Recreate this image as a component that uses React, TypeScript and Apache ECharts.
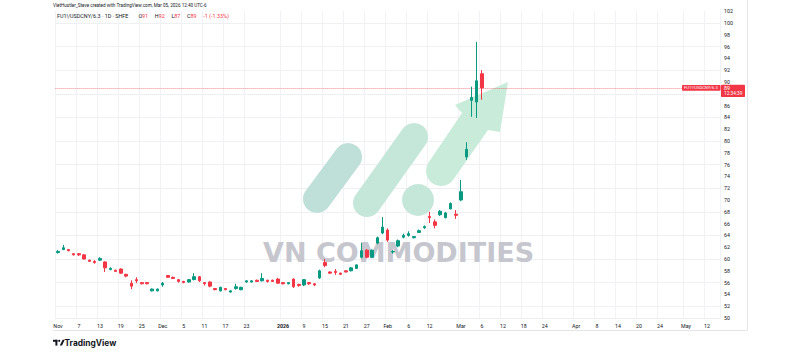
import React, { useEffect, useRef } from "react";
import * as echarts from "echarts";

// Trading days shown (SHFE, daily bars)
const tradingDates = [
  "2025-11-03","2025-11-04","2025-11-05","2025-11-06","2025-11-07","2025-11-10","2025-11-11","2025-11-12","2025-11-13","2025-11-14",
  "2025-11-17","2025-11-18","2025-11-19","2025-11-20","2025-11-21","2025-11-24","2025-11-25","2025-11-26","2025-11-27","2025-11-28",
  "2025-12-01","2025-12-02","2025-12-03","2025-12-04","2025-12-05","2025-12-08","2025-12-09","2025-12-10","2025-12-11","2025-12-12",
  "2025-12-15","2025-12-16","2025-12-17","2025-12-18","2025-12-19","2025-12-22","2025-12-23","2025-12-24","2025-12-25","2025-12-26",
  "2025-12-29","2025-12-30","2025-12-31","2026-01-05","2026-01-06","2026-01-07","2026-01-08","2026-01-09","2026-01-12","2026-01-13",
  "2026-01-14","2026-01-15","2026-01-16","2026-01-19","2026-01-20","2026-01-21","2026-01-22","2026-01-23","2026-01-26","2026-01-27",
  "2026-01-28","2026-01-29","2026-01-30","2026-02-02","2026-02-03","2026-02-04","2026-02-05","2026-02-06","2026-02-09","2026-02-10",
  "2026-02-11","2026-02-12","2026-02-13","2026-02-24","2026-02-25","2026-02-26","2026-02-27","2026-03-02","2026-03-03","2026-03-04",
  "2026-03-05","2026-03-06"
];

// Future (empty) bars on the time scale
const futureDates = [
  "2026-03-09","2026-03-10","2026-03-11","2026-03-12","2026-03-13","2026-03-16","2026-03-17","2026-03-18","2026-03-19","2026-03-20",
  "2026-03-23","2026-03-24","2026-03-25","2026-03-26","2026-03-27","2026-03-30","2026-03-31","2026-04-01","2026-04-02","2026-04-03",
  "2026-04-07","2026-04-08","2026-04-09","2026-04-10","2026-04-13","2026-04-14","2026-04-15","2026-04-16","2026-04-17","2026-04-20",
  "2026-04-21","2026-04-22","2026-04-23","2026-04-24","2026-04-27","2026-04-28","2026-04-29","2026-04-30","2026-05-06","2026-05-07",
  "2026-05-08","2026-05-11","2026-05-12","2026-05-13","2026-05-14"
];

const opens = [
  61.1, 61.6, 61.6, 60.9, 60.9, 60.7, 59.8, 59.6, 59.8, 59.5,
  58.2, 58.1, 58.3, 57.4, 55.9, 56.5, 56.0, 56.0, 54.6, 54.6,
  55.6, 57.2, 56.9, 56.5, 56.2, 56.1, 56.5, 57.0, 56.0, 56.1,
  55.0, 54.6, 55.0, 54.4, 55.0, 54.8, 56.1, 56.1, 56.4, 56.3,
  56.4, 56.4, 56.6, 56.0, 55.8, 56.6, 55.7, 55.6, 56.0, 55.8,
  56.8, 59.4, 57.8, 57.9, 57.6, 58.0, 58.0, 58.4, 60.3, 61.5,
  60.3, 62.7, 64.4, 64.9, 61.2, 62.2, 63.7, 64.0, 63.6, 64.5,
  65.3, 67.2, 66.3, 67.5, 67.0, 68.5, 67.6, 70.0, 77.3, 86.9,
  86.6, 91.4
];
const closes = [
  61.3, 61.9, 61.4, 60.7, 60.7, 60.0, 59.6, 59.4, 60.1, 58.5,
  58.4, 57.9, 57.6, 57.1, 55.4, 56.3, 55.8, 55.8, 54.9, 54.9,
  55.9, 56.9, 56.7, 56.2, 56.0, 56.5, 57.0, 56.3, 55.8, 55.4,
  54.8, 55.2, 54.8, 54.6, 55.3, 55.2, 56.3, 56.3, 56.2, 56.7,
  56.2, 56.2, 55.9, 55.8, 56.0, 55.3, 55.5, 56.5, 55.8, 55.6,
  58.0, 58.9, 57.6, 57.7, 57.4, 57.8, 58.5, 59.0, 61.4, 60.3,
  61.5, 63.6, 65.4, 63.2, 61.25, 63.1, 64.0, 64.3, 63.8, 64.8,
  65.5, 67.0, 65.7, 68.1, 67.8, 69.4, 67.4, 71.4, 78.6, 87.4,
  90.2, 89.0
];
const lows = [
  60.9, 61.5, 61.3, 60.6, 60.5, 59.9, 59.5, 59.2, 59.7, 57.8,
  58.1, 57.8, 57.5, 56.9, 54.9, 55.9, 55.7, 55.7, 54.5, 54.5,
  55.3, 56.8, 56.6, 56.0, 55.9, 56.0, 56.4, 56.1, 55.5, 55.2,
  54.7, 54.5, 54.7, 54.3, 54.8, 54.7, 56.0, 56.0, 56.1, 56.2,
  56.0, 56.1, 55.8, 55.7, 55.7, 55.1, 55.3, 55.4, 55.6, 55.4,
  56.6, 58.6, 57.5, 57.3, 57.3, 57.7, 57.9, 58.3, 60.1, 60.1,
  60.2, 62.5, 64.2, 62.9, 60.9, 62.0, 63.5, 63.8, 63.5, 64.4,
  65.1, 66.1, 65.2, 67.3, 66.9, 68.4, 66.8, 69.8, 76.8, 84.1,
  83.9, 87.0
];
const highs = [
  61.5, 62.4, 61.7, 61.0, 61.0, 60.8, 59.9, 59.8, 60.3, 59.6,
  58.6, 58.2, 58.4, 57.5, 56.4, 56.9, 56.1, 56.1, 55.0, 55.0,
  56.1, 57.3, 57.0, 56.6, 56.3, 56.6, 57.6, 57.1, 56.1, 56.2,
  55.1, 55.3, 55.1, 54.7, 55.8, 55.3, 56.4, 56.4, 56.5, 57.6,
  56.5, 56.5, 56.8, 56.1, 56.1, 56.7, 55.8, 56.6, 56.1, 55.9,
  58.2, 60.0, 57.9, 58.3, 57.7, 58.1, 58.6, 59.1, 62.7, 61.7,
  61.6, 63.8, 67.1, 65.2, 61.5, 63.3, 64.3, 64.7, 63.9, 65.0,
  65.7, 68.0, 66.7, 68.3, 68.0, 69.6, 68.3, 73.4, 79.8, 89.2,
  96.8, 92.0
];

// Time-axis tick labels: [date, label]
const timeTicks: [string, string][] = [
  ["2025-11-03", "Nov"], ["2025-11-07", "7"], ["2025-11-13", "13"], ["2025-11-19", "19"], ["2025-11-25", "25"],
  ["2025-12-01", "Dec"], ["2025-12-05", "5"], ["2025-12-11", "11"], ["2025-12-17", "17"], ["2025-12-23", "23"],
  ["2026-01-05", "2026"], ["2026-01-09", "9"], ["2026-01-15", "15"], ["2026-01-21", "21"], ["2026-01-27", "27"],
  ["2026-02-02", "Feb"], ["2026-02-06", "6"], ["2026-02-12", "12"], ["2026-03-02", "Mar"], ["2026-03-06", "6"],
  ["2026-03-12", "12"], ["2026-03-18", "18"], ["2026-03-24", "24"], ["2026-04-01", "Apr"], ["2026-04-08", "8"],
  ["2026-04-14", "14"], ["2026-04-20", "20"], ["2026-04-24", "24"], ["2026-05-06", "May"], ["2026-05-12", "12"]
];

const priceMin = 50;
const priceMax = 102;
const priceStep = 2;

const symbolName = "FU1!/USDCNY/6.3";
const countdown = "12:34:39";

const UP = "#089981";
const DOWN = "#f23645";
const TEXT = "#131722";

export default function App() {
  const ref = useRef<HTMLDivElement>(null);

  useEffect(() => {
    if (!ref.current) return;
    const chart = echarts.init(ref.current, undefined, { renderer: "svg" });

    const categories = [...tradingDates, ...futureDates];
    const tickMap: Record<string, string> = {};
    timeTicks.forEach(([d, t]) => (tickMap[d] = t));
    const isTick = (i: number) => tickMap[categories[i]] !== undefined;

    const candleData = tradingDates.map((_, i) => [opens[i], closes[i], lows[i], highs[i]]);
    const last = tradingDates.length - 1;
    const lastClose = closes[last];
    const prevClose = closes[last - 1];
    const chg = lastClose - prevClose;
    const chgPct = (chg / prevClose) * 100;

    chart.setOption({
      animation: false,
      backgroundColor: "#ffffff",
      grid: { left: 55.4, right: 79.9, top: 11.2, bottom: 35, containLabel: false },
      xAxis: {
        type: "category",
        data: categories,
        boundaryGap: true,
        axisLine: { show: true, lineStyle: { color: "#eceef2" } },
        axisTick: { show: false },
        splitLine: { show: true, interval: (i: number) => isTick(i), lineStyle: { color: "#f1f2f5", width: 1 } },
        axisLabel: {
          interval: (i: number) => isTick(i),
          formatter: (v: string) => {
            const t = tickMap[v] || "";
            return t === "2026" ? "{b|" + t + "}" : t;
          },
          fontSize: 5.3,
          color: TEXT,
          margin: 5,
          fontFamily: "Roboto",
          rich: { b: { fontSize: 5.3, fontWeight: "bold", color: TEXT, fontFamily: "Roboto" } },
        },
      },
      yAxis: {
        type: "value",
        position: "right",
        min: priceMin,
        max: priceMax,
        interval: priceStep,
        axisLine: { show: false },
        axisTick: { show: false },
        splitLine: { show: true, lineStyle: { color: ["rgba(0,0,0,0)", "#eef0f4"], width: 1 } },
        axisLabel: {
          fontSize: 5.3,
          color: TEXT,
          margin: 4,
          fontFamily: "Roboto",
          // labels hidden under the last-price badge
          formatter: (v: number) => (v < lastClose + 0.5 && v > lastClose - 1.8 ? "" : String(v)),
        },
      },
      series: [
        {
          type: "candlestick",
          data: candleData,
          barWidth: 3,
          z: 5,
          itemStyle: { color: UP, color0: DOWN, borderColor: UP, borderColor0: DOWN, borderWidth: 1 },
          markLine: {
            silent: true,
            symbol: "none",
            label: { show: false },
            lineStyle: { color: DOWN, type: "dotted", width: 1, opacity: 0.6 },
            data: [{ yAxis: lastClose }],
          },
        },
      ],
    });

    const yLast = chart.convertToPixel({ yAxisIndex: 0 }, lastClose) as number;
    const logoFill1 = "#bfe0d8";
    const logoFill2 = "#c5e7d9";
    const logoFill3 = "#c9ecda";
    const fmt = (v: number) => String(Math.round(v));

    chart.setOption({
      graphic: [
        // watermark logo
        { type: "line", z: 0, shape: { x1: 317, y1: 199, x2: 348, y2: 157 }, style: { stroke: logoFill1, lineWidth: 28, lineCap: "round" } },
        { type: "line", z: 0, shape: { x1: 367, y1: 203, x2: 414, y2: 137 }, style: { stroke: logoFill2, lineWidth: 28, lineCap: "round" } },
        { type: "circle", z: 0, shape: { cx: 418, cy: 200, r: 16 }, style: { fill: logoFill2 } },
        { type: "circle", z: 0, shape: { cx: 441, cy: 171, r: 15 }, style: { fill: logoFill3 } },
        {
          type: "polygon", z: 0,
          shape: { points: [[428.4, 162.8], [462, 113], [455, 105], [508, 82], [500, 132], [488, 130], [453.6, 179.2]] },
          style: { fill: logoFill3 },
        },
        {
          type: "text", z: 0, x: 263, y: 252,
          style: { text: "VN COMMODITIES", fill: "#c6c6ce", fontSize: 27, fontWeight: "bold", fontFamily: "DejaVu Sans", verticalAlign: "middle", textAlign: "left" },
        },
        // header
        {
          type: "text", z: 10, x: 53, y: 5.5,
          style: { text: "VietHustler_Steve created with TradingView.com, Mar 05, 2026 12:40 UTC-6", fill: TEXT, fontSize: 4.6, fontFamily: "Roboto", verticalAlign: "middle" },
        },
        {
          type: "text", z: 10, x: 57, y: 15.5,
          style: {
            text:
              "{a|" + symbolName + " · 1D · SHFE}   {a|O}{r|" + fmt(opens[last]) + "}  {a|H}{r|" + fmt(highs[last]) +
              "}  {a|L}{r|" + fmt(lows[last]) + "}  {a|C}{r|" + fmt(lastClose) + "}  {r|" + fmt(chg) + " (" + chgPct.toFixed(2) + "%)}",
            verticalAlign: "middle",
            rich: {
              a: { fill: TEXT, fontSize: 5.4, fontFamily: "Roboto" },
              r: { fill: DOWN, fontSize: 5.4, fontFamily: "Roboto" },
            },
          },
        },
        // frame
        { type: "line", z: 1, shape: { x1: 53, y1: 330.5, x2: 747, y2: 330.5 }, style: { stroke: "#e3e5ea", lineWidth: 1 } },
        { type: "line", z: 1, shape: { x1: 747.5, y1: 0, x2: 747.5, y2: 330.5 }, style: { stroke: "#e3e5ea", lineWidth: 1 } },
        // last price labels
        { type: "rect", z: 10, shape: { x: 682, y: yLast - 2.8, width: 38.5, height: 5.6, r: 0.8 }, style: { fill: DOWN } },
        { type: "text", z: 11, x: 684, y: yLast, style: { text: symbolName, fill: "#ffffff", fontSize: 4.2, fontFamily: "Roboto", verticalAlign: "middle" } },
        { type: "rect", z: 10, shape: { x: 721, y: yLast - 3.2, width: 24, height: 12.4, r: 0.8 }, style: { fill: DOWN } },
        { type: "text", z: 11, x: 724, y: yLast, style: { text: fmt(lastClose), fill: "#ffffff", fontSize: 5.3, fontFamily: "Roboto", verticalAlign: "middle" } },
        { type: "text", z: 11, x: 724, y: yLast + 5.6, style: { text: countdown, fill: "#ffffff", fontSize: 4.8, fontFamily: "Roboto", verticalAlign: "middle" } },
        // TradingView logo
        { type: "rect", z: 10, shape: { x: 53, y: 339.8, width: 4.4, height: 2 }, style: { fill: TEXT } },
        { type: "rect", z: 10, shape: { x: 55.4, y: 339.8, width: 2, height: 5.8 }, style: { fill: TEXT } },
        { type: "circle", z: 10, shape: { cx: 59.2, cy: 340.8, r: 1 }, style: { fill: TEXT } },
        { type: "polygon", z: 10, shape: { points: [[59.8, 345.6], [62.6, 339.8], [64.8, 339.8], [62, 345.6]] }, style: { fill: TEXT } },
        {
          type: "text", z: 10, x: 64.5, y: 342.8,
          style: { text: "TradingView", fill: TEXT, fontSize: 8.4, fontWeight: "bold", fontFamily: "Inter", verticalAlign: "middle" },
        },
      ],
    });

    return () => chart.dispose();
  }, []);

  return <div ref={ref} style={{ width: 800, height: 353, position: "absolute", left: 0, top: 0 }} />;
}
